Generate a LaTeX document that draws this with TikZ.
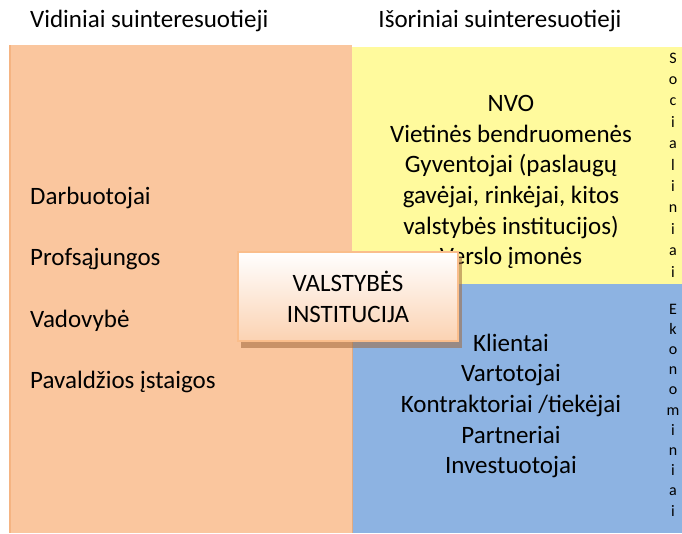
\documentclass[tikz,border=0pt]{standalone}
\usepackage{fontspec}
\setmainfont{Carlito}
\usetikzlibrary{positioning}

\definecolor{vidOrange}{RGB}{250,198,158}
\definecolor{vidEdge}{RGB}{245,180,130}
\definecolor{socYellow}{RGB}{255,250,157}
\definecolor{ekoBlue}{RGB}{141,179,226}
\definecolor{boxBottom}{RGB}{251,210,178}
\definecolor{boxEdge}{RGB}{250,190,140}
\definecolor{boxShadow}{RGB}{160,105,60}

\begin{document}
\begin{tikzpicture}[x=1pt,y=-1pt,
    head/.style={font=\fontsize{25}{30}\selectfont, inner sep=0pt},
    group/.style={font=\fontsize{25}{30.6}\selectfont, inner sep=0pt, align=center},
    sidegroup/.style={font=\fontsize{25}{61.3}\selectfont, inner sep=0pt, align=left},
    letters/.style={font=\fontsize{16}{21.4}\selectfont, inner sep=0pt, align=center},
    instbox/.style={draw=boxEdge, line width=1.6pt, top color=white, bottom color=boxBottom,
      minimum width=220pt, minimum height=89pt, align=center,
      font=\fontsize{25}{31}\selectfont}
  ]
  \useasboundingbox (0,0) rectangle (682,533);

  % areas
  \fill[vidOrange] (9,45) rectangle (352,533);
  \draw[vidEdge, line width=1.2pt] (10,45) -- (10,533);
  \fill[socYellow] (352,47) rectangle (682,284);
  \fill[ekoBlue] (352,284) rectangle (682,533);
  \draw[vidEdge!80!gray, line width=0.8pt] (352,284) -- (352,533);

  % headers
  \node[head, anchor=west] (vidHead) at (30,21) {Vidiniai suinteresuotieji};
  \node[head] (isoHead) at (500,21) {Išoriniai suinteresuotieji};

  % vidiniai
  \node[sidegroup, anchor=west] (vidList) at (30,290)
    {Darbuotojai\\Profsąjungos\\Vadovybė\\Pavaldžios įstaigos};

  % socialiniai
  \node[group] (socList) at (511,182)
    {NVO\\Vietinės bendruomenės\\Gyventojai (paslaugų\\gavėjai, rinkėjai, kitos\\valstybės institucijos)\\Verslo įmonės};
  \node[letters] (socWord) at (673,165)
    {S\\o\\c\\i\\a\\l\\i\\n\\i\\a\\i};

  % ekonominiai
  \node[group] (ekoList) at (511,406)
    {Klientai\\Vartotojai\\Kontraktoriai /tiekėjai\\Partneriai\\Investuotojai};
  \node[letters, font=\fontsize{16}{20.2}\selectfont] (ekoWord) at (673,410)
    {E\\k\\o\\n\\o\\m\\i\\n\\i\\a\\i};

  % valstybes institucijos
  \fill[boxShadow, opacity=0.55] (241,257) rectangle (462,348);
  \node[instbox] (inst) at (348,296.5) {VALSTYBĖS\\INSTITUCIJA};
\end{tikzpicture}
\end{document}
